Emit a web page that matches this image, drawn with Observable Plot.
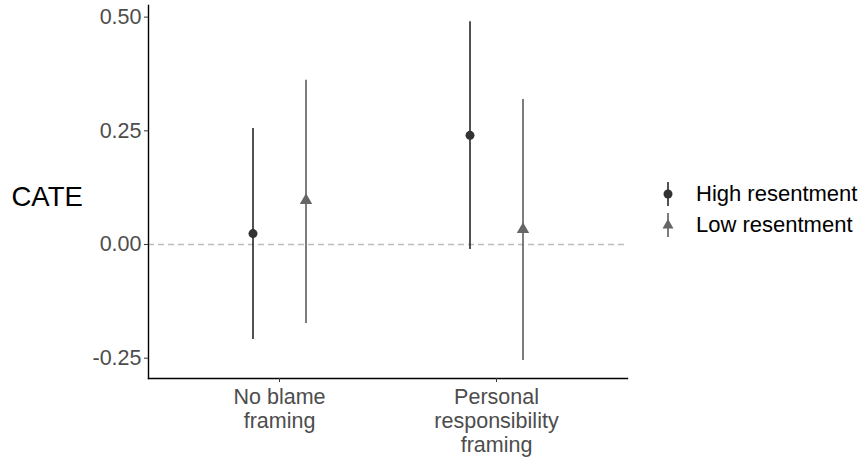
<!DOCTYPE html>
<html><head><meta charset="utf-8">
<script src="https://cdn.jsdelivr.net/npm/d3@7"></script>
<script src="https://cdn.jsdelivr.net/npm/@observablehq/plot@0.6"></script>
<style>
body{margin:0;background:#fff;font-family:"Liberation Sans",Arial,sans-serif}
#wrap{position:relative;width:863px;height:461px}
#legend{position:absolute;left:660px;top:178px;font-size:22px;color:#000}
#legend div{display:flex;align-items:center;height:31px}
#legend svg{margin-right:20px}
</style></head><body><div id="wrap"></div>
<script>
const framings = ["No blame framing", "Personal responsibility framing"];
const framingLabels = ["No blame\nframing", "Personal\nresponsibility\nframing"];
const groups = ["High resentment", "Low resentment"];
const groupColors = ["#333333", "#666666"];
const groupSymbols = ["circle", "triangle"];
const highEst = [0.024, 0.240];
const highLo = [-0.209, -0.011];
const highHi = [0.255, 0.490];
const lowEst = [0.097, 0.033];
const lowLo = [-0.174, -0.255];
const lowHi = [0.361, 0.319];
const yTicks = [-0.25, 0, 0.25, 0.5];

const series = [
  {est: highEst, lo: highLo, hi: highHi},
  {est: lowEst, lo: lowLo, hi: lowHi}
];
const dodge = [-26.5, 26.5];

const marks = [Plot.ruleY([0], {stroke: "#bdbdbd", strokeWidth: 1.4, strokeDasharray: "6,4"})];
groups.forEach((g, gi) => {
  const rows = framings.map((f, i) => ({framing: f, group: g, est: series[gi].est[i], lo: series[gi].lo[i], hi: series[gi].hi[i]}));
  marks.push(Plot.ruleX(rows, {x: "framing", y1: "lo", y2: "hi", stroke: groupColors[gi], strokeWidth: 1.7, dx: dodge[gi]}));
  marks.push(Plot.dot(rows, {x: "framing", y: "est", fill: groupColors[gi], stroke: "none", symbol: groupSymbols[gi], r: gi === 0 ? 4.5 : 4.6, dx: dodge[gi]}));
});
marks.push(Plot.frame({anchor: "left", stroke: "#000", strokeWidth: 1.4}));
marks.push(Plot.frame({anchor: "bottom", stroke: "#000", strokeWidth: 1.4}));
marks.push(Plot.axisY({ticks: yTicks, tickFormat: d => d.toFixed(2), fontSize: 21.5, fill: "#4d4d4d", stroke: "#333", tickSize: 4, tickPadding: 3, label: null}));
marks.push(Plot.axisX({tickFormat: d => framingLabels[framings.indexOf(d)], fontSize: 21.5, fill: "#4d4d4d", stroke: "#333", tickSize: 4, tickPadding: 5, lineHeight: 1.1, label: null}));
marks.push(Plot.text(["CATE"], {frameAnchor: "left", dx: -137, dy: 5, textAnchor: "start", fontSize: 27.5, fill: "#000", text: d => d}));

const chart = Plot.plot({
  width: 863, height: 461,
  marginLeft: 148, marginRight: 236, marginTop: 5, marginBottom: 83,
  style: {fontFamily: '"Liberation Sans", Arial, sans-serif', background: "#fff"},
  x: {type: "point", domain: framings, padding: 0.6},
  y: {domain: [-0.2947, 0.5256]},
  marks
});
const wrap = document.getElementById("wrap");
wrap.appendChild(chart);

const legend = document.createElement("div");
legend.id = "legend";
groups.forEach((g, gi) => {
  const row = document.createElement("div");
  const sym = gi === 0
    ? `<circle cx="8" cy="13" r="4.5" fill="${groupColors[gi]}"/>`
    : `<path d="M8,7 L13.5,16.5 L2.5,16.5 Z" fill="${groupColors[gi]}"/>`;
  row.innerHTML = `<svg width="16" height="26"><line x1="8" x2="8" y1="1" y2="25" stroke="${groupColors[gi]}" stroke-width="1.7"/>${sym}</svg><span>${g}</span>`;
  legend.appendChild(row);
});
wrap.appendChild(legend);
</script></body></html>
